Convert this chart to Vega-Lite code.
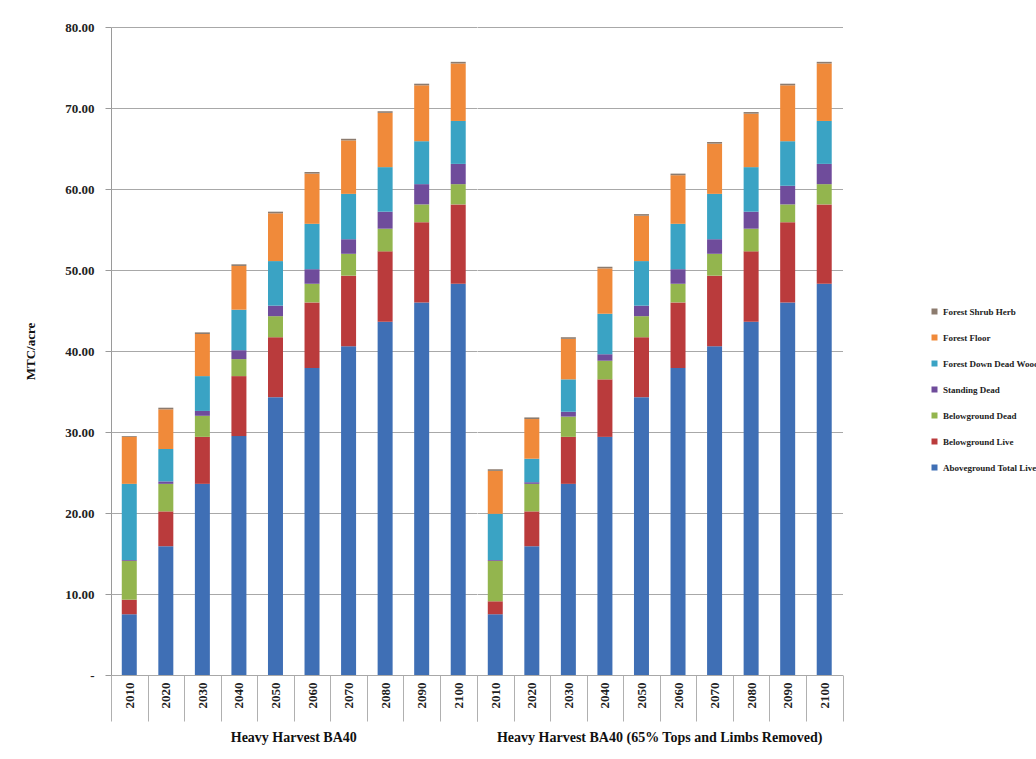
{
  "$schema": "https://vega.github.io/schema/vega-lite/v6.json",
  "background": "white",
  "padding": {"left": 24, "top": 21, "right": 0, "bottom": 0},
  "datasets": {
    "ser": [
      {"Series": "Aboveground Total Live", "o": 1},
      {"Series": "Belowground Live", "o": 2},
      {"Series": "Belowground Dead", "o": 3},
      {"Series": "Standing Dead", "o": 4},
      {"Series": "Forest Down Dead Wood", "o": 5},
      {"Series": "Forest Floor", "o": 6},
      {"Series": "Forest Shrub Herb", "o": 7}
    ]
  },
  "data": {
    "values": [
      {"g": "Heavy Harvest BA40", "yr": "2010", "Aboveground Total Live": 7.5, "Belowground Live": 1.8, "Belowground Dead": 4.8, "Standing Dead": 0.1, "Forest Down Dead Wood": 9.4, "Forest Floor": 5.8, "Forest Shrub Herb": 0.1},
      {"g": "Heavy Harvest BA40", "yr": "2020", "Aboveground Total Live": 15.9, "Belowground Live": 4.3, "Belowground Dead": 3.4, "Standing Dead": 0.3, "Forest Down Dead Wood": 4.0, "Forest Floor": 4.9, "Forest Shrub Herb": 0.2},
      {"g": "Heavy Harvest BA40", "yr": "2030", "Aboveground Total Live": 23.6, "Belowground Live": 5.8, "Belowground Dead": 2.6, "Standing Dead": 0.6, "Forest Down Dead Wood": 4.3, "Forest Floor": 5.2, "Forest Shrub Herb": 0.2},
      {"g": "Heavy Harvest BA40", "yr": "2040", "Aboveground Total Live": 29.5, "Belowground Live": 7.4, "Belowground Dead": 2.1, "Standing Dead": 1.1, "Forest Down Dead Wood": 5.0, "Forest Floor": 5.4, "Forest Shrub Herb": 0.2},
      {"g": "Heavy Harvest BA40", "yr": "2050", "Aboveground Total Live": 34.3, "Belowground Live": 7.4, "Belowground Dead": 2.6, "Standing Dead": 1.3, "Forest Down Dead Wood": 5.5, "Forest Floor": 5.9, "Forest Shrub Herb": 0.2},
      {"g": "Heavy Harvest BA40", "yr": "2060", "Aboveground Total Live": 37.9, "Belowground Live": 8.1, "Belowground Dead": 2.3, "Standing Dead": 1.8, "Forest Down Dead Wood": 5.6, "Forest Floor": 6.2, "Forest Shrub Herb": 0.2},
      {"g": "Heavy Harvest BA40", "yr": "2070", "Aboveground Total Live": 40.6, "Belowground Live": 8.7, "Belowground Dead": 2.7, "Standing Dead": 1.8, "Forest Down Dead Wood": 5.6, "Forest Floor": 6.6, "Forest Shrub Herb": 0.2},
      {"g": "Heavy Harvest BA40", "yr": "2080", "Aboveground Total Live": 43.6, "Belowground Live": 8.7, "Belowground Dead": 2.8, "Standing Dead": 2.1, "Forest Down Dead Wood": 5.5, "Forest Floor": 6.7, "Forest Shrub Herb": 0.2},
      {"g": "Heavy Harvest BA40", "yr": "2090", "Aboveground Total Live": 46.0, "Belowground Live": 9.9, "Belowground Dead": 2.2, "Standing Dead": 2.5, "Forest Down Dead Wood": 5.3, "Forest Floor": 6.9, "Forest Shrub Herb": 0.2},
      {"g": "Heavy Harvest BA40", "yr": "2100", "Aboveground Total Live": 48.3, "Belowground Live": 9.8, "Belowground Dead": 2.5, "Standing Dead": 2.5, "Forest Down Dead Wood": 5.3, "Forest Floor": 7.1, "Forest Shrub Herb": 0.2},
      {"g": "Heavy Harvest BA40 (65% Tops and Limbs Removed)", "yr": "2010", "Aboveground Total Live": 7.5, "Belowground Live": 1.6, "Belowground Dead": 5.0, "Standing Dead": 0.1, "Forest Down Dead Wood": 5.7, "Forest Floor": 5.3, "Forest Shrub Herb": 0.2},
      {"g": "Heavy Harvest BA40 (65% Tops and Limbs Removed)", "yr": "2020", "Aboveground Total Live": 15.9, "Belowground Live": 4.3, "Belowground Dead": 3.4, "Standing Dead": 0.2, "Forest Down Dead Wood": 2.9, "Forest Floor": 4.9, "Forest Shrub Herb": 0.2},
      {"g": "Heavy Harvest BA40 (65% Tops and Limbs Removed)", "yr": "2030", "Aboveground Total Live": 23.6, "Belowground Live": 5.8, "Belowground Dead": 2.5, "Standing Dead": 0.6, "Forest Down Dead Wood": 4.0, "Forest Floor": 5.0, "Forest Shrub Herb": 0.2},
      {"g": "Heavy Harvest BA40 (65% Tops and Limbs Removed)", "yr": "2040", "Aboveground Total Live": 29.4, "Belowground Live": 7.1, "Belowground Dead": 2.3, "Standing Dead": 0.8, "Forest Down Dead Wood": 5.0, "Forest Floor": 5.6, "Forest Shrub Herb": 0.2},
      {"g": "Heavy Harvest BA40 (65% Tops and Limbs Removed)", "yr": "2050", "Aboveground Total Live": 34.3, "Belowground Live": 7.4, "Belowground Dead": 2.6, "Standing Dead": 1.3, "Forest Down Dead Wood": 5.5, "Forest Floor": 5.6, "Forest Shrub Herb": 0.2},
      {"g": "Heavy Harvest BA40 (65% Tops and Limbs Removed)", "yr": "2060", "Aboveground Total Live": 37.9, "Belowground Live": 8.1, "Belowground Dead": 2.3, "Standing Dead": 1.8, "Forest Down Dead Wood": 5.6, "Forest Floor": 6.0, "Forest Shrub Herb": 0.2},
      {"g": "Heavy Harvest BA40 (65% Tops and Limbs Removed)", "yr": "2070", "Aboveground Total Live": 40.6, "Belowground Live": 8.7, "Belowground Dead": 2.7, "Standing Dead": 1.8, "Forest Down Dead Wood": 5.6, "Forest Floor": 6.2, "Forest Shrub Herb": 0.2},
      {"g": "Heavy Harvest BA40 (65% Tops and Limbs Removed)", "yr": "2080", "Aboveground Total Live": 43.6, "Belowground Live": 8.7, "Belowground Dead": 2.8, "Standing Dead": 2.1, "Forest Down Dead Wood": 5.5, "Forest Floor": 6.6, "Forest Shrub Herb": 0.2},
      {"g": "Heavy Harvest BA40 (65% Tops and Limbs Removed)", "yr": "2090", "Aboveground Total Live": 46.0, "Belowground Live": 9.9, "Belowground Dead": 2.2, "Standing Dead": 2.3, "Forest Down Dead Wood": 5.5, "Forest Floor": 6.9, "Forest Shrub Herb": 0.2},
      {"g": "Heavy Harvest BA40 (65% Tops and Limbs Removed)", "yr": "2100", "Aboveground Total Live": 48.3, "Belowground Live": 9.8, "Belowground Dead": 2.5, "Standing Dead": 2.5, "Forest Down Dead Wood": 5.3, "Forest Floor": 7.1, "Forest Shrub Herb": 0.2}
    ]
  },
  "transform": [
    {"fold": ["Aboveground Total Live", "Belowground Live", "Belowground Dead", "Standing Dead", "Forest Down Dead Wood", "Forest Floor", "Forest Shrub Herb"], "as": ["Series", "v"]},
    {"lookup": "Series", "from": {"data": {"name": "ser"}, "key": "Series", "fields": ["o"]}}
  ],
  "facet": {
    "column": {
      "field": "g",
      "type": "nominal",
      "sort": ["Heavy Harvest BA40", "Heavy Harvest BA40 (65% Tops and Limbs Removed)"],
      "header": {
        "title": null,
        "labelOrient": "bottom",
        "labelFont": "Liberation Serif",
        "labelFontWeight": "bold",
        "labelFontSize": 14,
        "labelColor": "#111111",
        "labelPadding": 9
      }
    }
  },
  "spacing": 0,
  "spec": {
    "width": 365.5,
    "height": 648,
    "mark": {"type": "bar", "width": 15},
    "encoding": {
      "x": {
        "field": "yr",
        "type": "ordinal",
        "scale": {"paddingInner": 0, "paddingOuter": 0},
        "axis": {
          "title": null,
          "labelAngle": 270,
          "labelFont": "Liberation Serif",
          "labelFontWeight": "bold",
          "labelFontSize": 13,
          "labelColor": "#222222",
          "labelPadding": -39,
          "tickBand": "extent",
          "tickSize": 46,
          "tickColor": "#B0B0B0",
          "domainColor": "#9A9A9A",
          "grid": false
        }
      },
      "y": {
        "field": "v",
        "type": "quantitative",
        "stack": "zero",
        "scale": {"domain": [0, 80], "nice": false},
        "axis": {
          "title": "MTC/acre",
          "titleFont": "Liberation Serif",
          "titleFontWeight": "bold",
          "titleFontSize": 13,
          "titleColor": "#111111",
          "titlePadding": 27,
          "values": [0, 10, 20, 30, 40, 50, 60, 70, 80],
          "labelExpr": "datum.value == 0 ? '-' : format(datum.value, '.2f')",
          "labelFont": "Liberation Serif",
          "labelFontWeight": "bold",
          "labelFontSize": 13,
          "labelColor": "#222222",
          "labelPadding": 11,
          "tickSize": 6,
          "tickColor": "#9A9A9A",
          "domainColor": "#9A9A9A",
          "gridColor": "#A8A8A8",
          "gridWidth": 1
        }
      },
      "color": {
        "field": "Series",
        "type": "nominal",
        "scale": {
          "domain": ["Forest Shrub Herb", "Forest Floor", "Forest Down Dead Wood", "Standing Dead", "Belowground Dead", "Belowground Live", "Aboveground Total Live"],
          "range": ["#8C7B6E", "#F08A3A", "#3AA3C4", "#6F4C9B", "#93B54E", "#BA3B3C", "#3F6FB5"]
        },
        "legend": {
          "title": null,
          "orient": "none",
          "legendX": 819,
          "legendY": 280,
          "symbolType": "square",
          "symbolSize": 36,
          "labelFont": "Liberation Serif",
          "labelFontWeight": "bold",
          "labelFontSize": 9,
          "labelColor": "#222222",
          "labelLimit": 300,
          "rowPadding": 16,
          "labelOffset": 4
        }
      },
      "order": {"field": "o", "type": "quantitative", "sort": "ascending"}
    }
  },
  "config": {
    "view": {"stroke": null}
  }
}
